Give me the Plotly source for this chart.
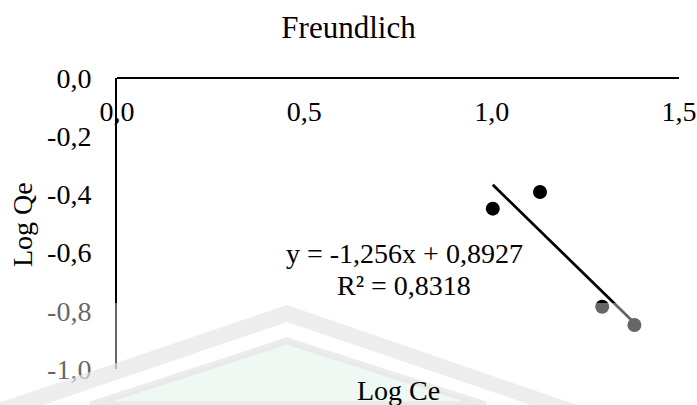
import plotly.graph_objects as go

# ---- data ----
log_ce = [1.003, 1.129, 1.295, 1.381]
log_qe = [-0.449, -0.392, -0.786, -0.849]
slope = -1.256
intercept = 0.8927
r2_text = "R² = 0,8318"
eq_text = "y = -1,256x + 0,8927"
x_tickvals = [0.0, 0.5, 1.0, 1.5]
x_ticktext = ["0,0", "0,5", "1,0", "1,5"]
y_tickvals = [0.0, -0.2, -0.4, -0.6, -0.8, -1.0]
y_ticktext = ["0,0", "-0,2", "-0,4", "-0,6", "-0,8", "-1,0"]

trend_x = [min(log_ce), max(log_ce)]
trend_y = [slope * v + intercept for v in trend_x]

W, H = 697, 405
L, R, T, B = 117, 18, 78, 36
PW, PH = W - L - R, H - T - B
FONT = "Liberation Serif, Times New Roman, serif"


def px(X):
    return (X - L) / PW


def py(Y):
    return (H - B - Y) / PH


fig = go.Figure()
fig.add_trace(go.Scatter(x=log_ce, y=log_qe, mode="markers",
                         marker=dict(color="black", size=14), showlegend=False))
fig.add_trace(go.Scatter(x=trend_x, y=trend_y, mode="lines",
                         line=dict(color="black", width=2.75), showlegend=False))


def path(points):
    s = "M " + " L ".join(f"{px(a):.4f},{py(b):.4f}" for a, b in points) + " Z"
    return s


shapes = [
    # translucent watermark overlay on lower part
    dict(type="rect", xref="paper", yref="paper", x0=px(0), x1=px(W),
         y0=py(H), y1=py(303), fillcolor="rgba(255,255,255,0.4)",
         line=dict(width=0), layer="above"),
    dict(type="path", xref="paper", yref="paper",
         path=path([(-7, 405), (287, 305), (577, 405), (531, 405), (287, 322), (43, 405)]),
         fillcolor="rgba(228,228,228,0.65)", line=dict(width=0), layer="above"),
    dict(type="path", xref="paper", yref="paper",
         path=path([(90, 405), (287, 341), (486, 405)]),
         fillcolor="rgba(234,246,238,0.75)", line=dict(color="rgba(228,228,228,0.7)", width=7),
         layer="above"),
]

annotations = [
    dict(text=eq_text, xref="paper", yref="paper", x=px(404), y=py(253),
         xanchor="center", yanchor="middle", showarrow=False,
         font=dict(family=FONT, size=28, color="black")),
    dict(text=r2_text, xref="paper", yref="paper", x=px(404), y=py(285),
         xanchor="center", yanchor="middle", showarrow=False,
         font=dict(family=FONT, size=28, color="black")),
    dict(text="Log Qe", xref="paper", yref="paper", x=px(22), y=py(225),
         xanchor="center", yanchor="middle", textangle=-90, showarrow=False,
         font=dict(family=FONT, size=28, color="black")),
    dict(text="Log Ce", xref="paper", yref="paper", x=px(398), y=py(390),
         xanchor="center", yanchor="middle", showarrow=False,
         font=dict(family=FONT, size=28, color="black")),
]

fig.update_layout(
    width=W, height=H,
    margin=dict(l=L, r=R, t=T, b=B, pad=0, autoexpand=False),
    paper_bgcolor="white", plot_bgcolor="white",
    title=dict(text="Freundlich", x=0.5, xanchor="center", xref="container",
               y=1 - 27 / H, yanchor="middle", yref="container",
               font=dict(family=FONT, size=31, color="black")),
    font=dict(family=FONT, size=28, color="black"),
    xaxis=dict(range=[0, 1.5], tickvals=x_tickvals, ticktext=x_ticktext,
               anchor="free", position=1, side="bottom", automargin=False,
               showline=True, linecolor="black", linewidth=2,
               showgrid=False, zeroline=False, ticks="",
               ticklabelstandoff=8,
               tickfont=dict(family=FONT, size=28, color="black")),
    yaxis=dict(range=[-1.0, 0.0], tickvals=y_tickvals, ticktext=y_ticktext,
               automargin=False,
               showline=True, linecolor="black", linewidth=2,
               showgrid=False, zeroline=False, ticks="",
               ticklabelstandoff=18,
               tickfont=dict(family=FONT, size=28, color="black")),
    shapes=shapes,
    annotations=annotations,
)

fig.write_html("out.html")
